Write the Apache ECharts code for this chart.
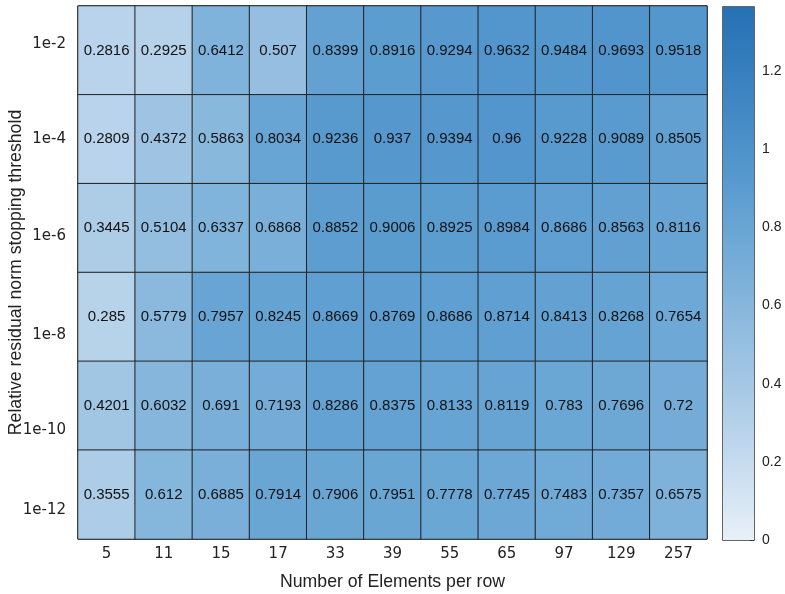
<!DOCTYPE html>
<html>
<head>
<meta charset="utf-8">
<script src="https://cdn.jsdelivr.net/npm/echarts@6/dist/echarts.min.js"></script>
<style>html,body{margin:0;padding:0;background:#fff;}#c{width:785px;height:594px;}</style>
</head>
<body>
<div id="c"></div>
<script>
var xCats = ['5','11','15','17','33','39','55','65','97','129','257'];
var yCats = ['1e-2','1e-4','1e-6','1e-8','1e-10','1e-12'];
var row_1e2  = [0.2816,0.2925,0.6412,0.507,0.8399,0.8916,0.9294,0.9632,0.9484,0.9693,0.9518];
var row_1e4  = [0.2809,0.4372,0.5863,0.8034,0.9236,0.937,0.9394,0.96,0.9228,0.9089,0.8505];
var row_1e6  = [0.3445,0.5104,0.6337,0.6868,0.8852,0.9006,0.8925,0.8984,0.8686,0.8563,0.8116];
var row_1e8  = [0.285,0.5779,0.7957,0.8245,0.8669,0.8769,0.8686,0.8714,0.8413,0.8268,0.7654];
var row_1e10 = [0.4201,0.6032,0.691,0.7193,0.8286,0.8375,0.8133,0.8119,0.783,0.7696,0.72];
var row_1e12 = [0.3555,0.612,0.6885,0.7914,0.7906,0.7951,0.7778,0.7745,0.7483,0.7357,0.6575];
var colorMin = 0, colorMax = 1.364;
var colorTicks = [0,0.2,0.4,0.6,0.8,1,1.2];

var rows = [row_1e2,row_1e4,row_1e6,row_1e8,row_1e10,row_1e12];
var data = [];
rows.forEach(function(r, yi){ r.forEach(function(v, xi){ data.push([xi, yi, v]); }); });

var palette = ['#e8f0f8','#c6dcef','#a6c8e5','#89b8dd','#6ba7d5','#5195cc','#3a82c0','#2671b4'];
var stops = palette.map(function(c,i){ return {offset: 1 - i/(palette.length-1), color: c}; });

// y tick label positions (in row units from top) as seen in the reference
var yLabelPos = [0.43,1.50,2.59,3.70,4.77,5.67];

var chart = echarts.init(document.getElementById('c'), null, {renderer:'canvas'});
chart.setOption({
  animation:false,
  backgroundColor:'#fff',
  grid:[
    {left:78, top:6, width:629, height:533, outerBoundsMode:'none', containLabel:false, show:true, borderColor:'#222', borderWidth:1, backgroundColor:'transparent'},
    {left:723, top:7, width:31, height:533, outerBoundsMode:'none', containLabel:false, show:true, borderColor:'#333', borderWidth:1.5, backgroundColor:'transparent'}
  ],
  xAxis:[
    {type:'category', gridIndex:0, data:xCats, axisLine:{show:false}, axisTick:{show:false},
     axisLabel:{fontFamily:'DejaVu Sans', fontSize:15, color:'#222', margin:8},
     name:'Number of Elements per row', nameLocation:'middle', nameGap:34, nameMoveOverlap:false,
     nameTextStyle:{fontFamily:'Liberation Sans', fontSize:17.7, color:'#222'}},
    {type:'category', gridIndex:1, data:[''], show:false}
  ],
  yAxis:[
    {type:'category', gridIndex:0, data:yCats, inverse:true, axisLine:{show:false}, axisTick:{show:false}, axisLabel:{show:false}},
    {type:'value', gridIndex:0, min:0, max:yCats.length, inverse:true, position:'left',
     axisLine:{show:false}, axisTick:{show:false}, splitLine:{show:false},
     axisLabel:{customValues:yLabelPos, fontFamily:'DejaVu Sans', fontSize:15, color:'#222', margin:12,
       formatter:function(v){ var i = yLabelPos.indexOf(v); return i>=0 ? yCats[i] : ''; }},
     name:'Relative residual norm stopping threshold', nameLocation:'middle', nameGap:53, nameRotate:90, nameMoveOverlap:false,
     nameTextStyle:{fontFamily:'Liberation Sans', fontSize:17.7, color:'#222'}},
    {type:'value', gridIndex:1, min:colorMin, max:colorMax, interval:0.2, position:'right',
     axisLine:{show:false}, splitLine:{show:false},
     axisTick:{show:true, inside:true, length:4, lineStyle:{color:'#333'}},
     axisLabel:{showMaxLabel:false, fontFamily:'Liberation Sans', fontSize:14, color:'#222', margin:8,
       formatter:function(v){ return colorTicks.indexOf(Math.round(v*10)/10) >= 0 ? String(Math.round(v*10)/10) : ''; }}}
  ],
  visualMap:{show:false, min:colorMin, max:colorMax, dimension:2, seriesIndex:0, inRange:{color:palette}},
  series:[
    {type:'heatmap', xAxisIndex:0, yAxisIndex:0, data:data,
     itemStyle:{borderColor:'#222', borderWidth:1},
     label:{show:true, fontFamily:'Liberation Sans', fontSize:15, color:'#111'},
     emphasis:{disabled:true}},
    {type:'bar', xAxisIndex:1, yAxisIndex:2, data:[colorMax], barWidth:'100%', silent:true,
     itemStyle:{color:new echarts.graphic.LinearGradient(0,0,0,1,stops)}}
  ]
});
</script>
</body>
</html>
